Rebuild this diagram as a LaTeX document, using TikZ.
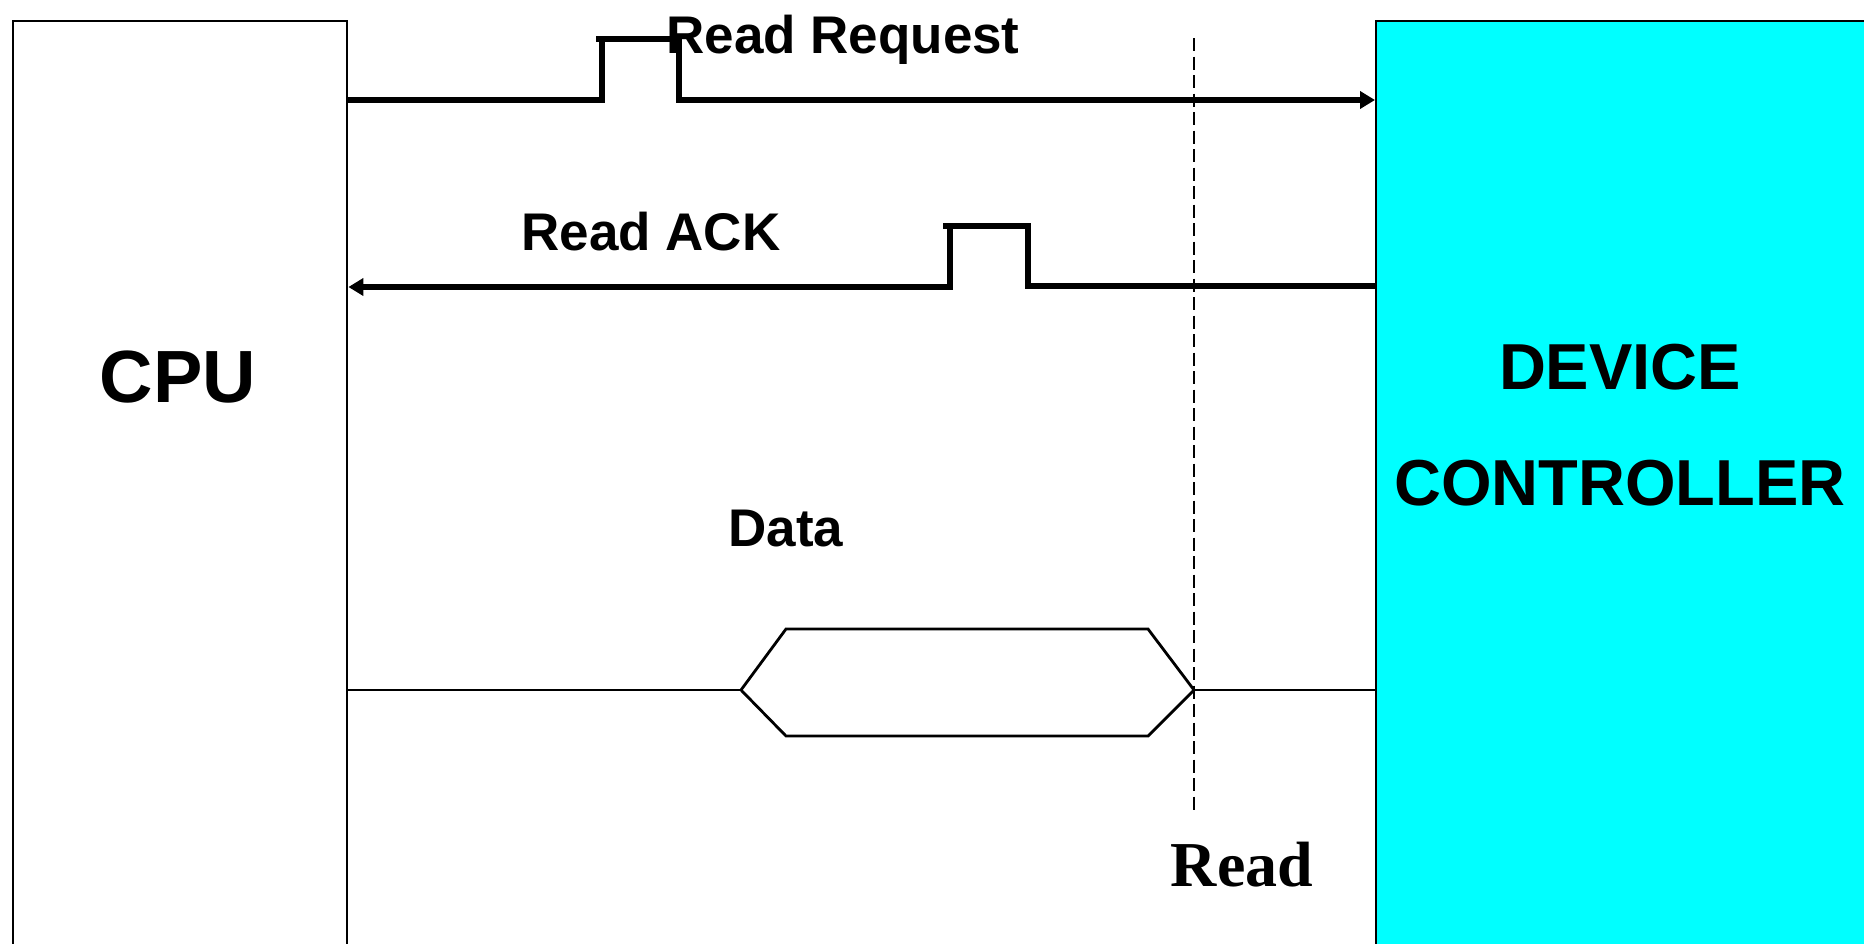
\documentclass[tikz,border=0pt]{standalone}
\usepackage{fontspec}
\setmainfont{Liberation Sans}
\newfontfamily\serifbold{Liberation Serif}
\usetikzlibrary{arrows.meta}
\definecolor{devcyan}{RGB}{0,255,255}
\tikzset{
  unitbox/.style={draw=black, line width=2.4pt, inner sep=0pt, anchor=north west},
  sig/.style={line width=5.6pt, line join=miter},
  bus/.style={line width=2.8pt, line join=miter},
  tip/.style={-{Triangle[length=15pt,width=17pt]}},
  marker/.style={line width=2.6pt, dash pattern=on 13pt off 5.5pt},
  lbl/.style={font=\fontsize{53}{60}\selectfont\bfseries, anchor=base, inner sep=0pt},
  biglbl/.style={font=\fontsize{74}{80}\selectfont\bfseries, anchor=base, inner sep=0pt},
  devlbl/.style={font=\fontsize{65}{72}\selectfont\bfseries, anchor=base, inner sep=0pt},
  notelbl/.style={font=\serifbold\fontsize{64}{70}\selectfont\bfseries, anchor=base, inner sep=0pt}
}
\begin{document}
\begin{tikzpicture}[x=1pt, y=-1pt]
\useasboundingbox (0,0) rectangle (1864,943);
\clip (0,0) rectangle (1864,943);

% the two units
\node[unitbox, minimum width=334pt, minimum height=960pt] (cpu) at (12,20) {};
\node[unitbox, fill=devcyan, minimum width=560pt, minimum height=960pt] (dc) at (1375,20) {};

\node[biglbl] (cpulbl) at (178,402) {CPU};
\node[devlbl] (devlbl) at (1620,389) {DEVICE};
\node[devlbl] (ctrllbl) at (1620,505) {CONTROLLER};

% read request strobe: CPU -> controller
\coordinate (rqA) at (602,100);
\coordinate (rqB) at (602,39);
\coordinate (rqC) at (596,39);
\coordinate (rqD) at (679,39);
\coordinate (rqE) at (679,100);
\draw[sig] (cpu.east |- rqA) -- (rqA) -- (rqB);
\draw[sig, tip] (rqC) -- (rqD) -- (rqE) -- (dc.west |- rqE);
\node[lbl] (rqlbl) at (843,53) {Read Request};

% read acknowledge strobe: controller -> CPU
\coordinate (akA) at (1028,286);
\coordinate (akB) at (1028,226);
\coordinate (akC) at (943,226);
\coordinate (akD) at (950,226);
\coordinate (akE) at (950,287);
\draw[sig] (dc.west |- akA) -- (akA) -- (akB) -- (akC);
\draw[sig, tip] (akD) -- (akE) -- (cpu.east |- akE);
\node[lbl] (aklbl) at (651,250) {Read ACK};

% data bus with valid window
\coordinate (dL) at (741,690);
\coordinate (dTL) at (786,629);
\coordinate (dTR) at (1148,629);
\coordinate (dR) at (1194,690);
\coordinate (dBR) at (1148,736);
\coordinate (dBL) at (786,736);
\draw[bus] (cpu.east |- dL) -- (dL);
\draw[bus] (dL) -- (dTL) -- (dTR) -- (dR) -- (dBR) -- (dBL) -- cycle;
\draw[bus] (dR) -- (dc.west |- dR);
\node[lbl] (datalbl) at (786,546) {Data};

% sampling instant
\coordinate (mkTop) at (1194,38);
\coordinate (mkBot) at (1194,812);
\draw[marker] (mkTop) -- (mkBot);
\node[notelbl] (readlbl) at (1242,886) {Read};
\end{tikzpicture}
\end{document}
